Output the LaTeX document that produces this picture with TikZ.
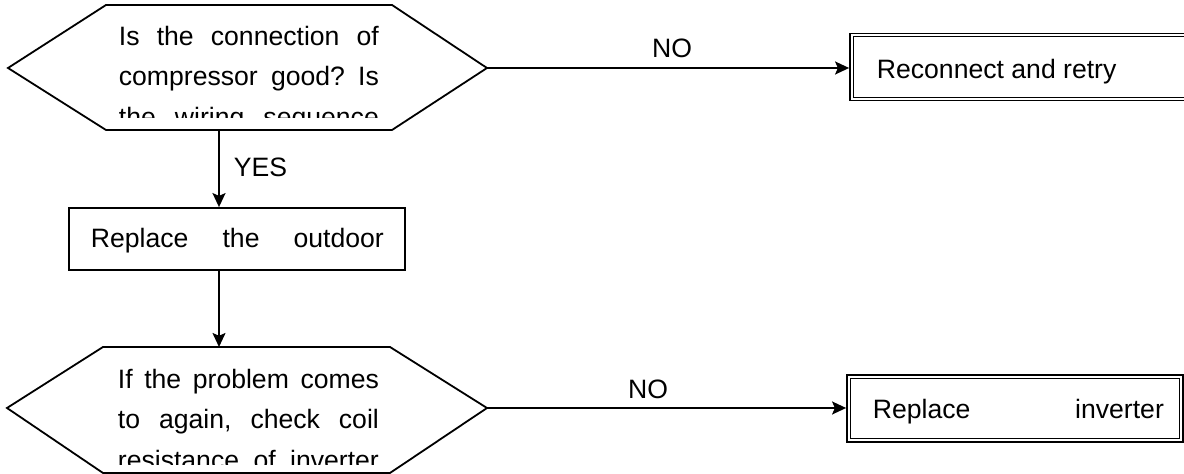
\documentclass[tikz,border=0pt]{standalone}
\usepackage{fontspec}
\setmainfont{Liberation Sans}
\usetikzlibrary{arrows.meta}
\begin{document}
\begin{tikzpicture}[x=0.5pt,y=-0.5pt,
  line width=0.9pt,
  txt/.style={inner sep=0pt,font=\fontsize{13.3pt}{20pt}\selectfont},
  boxx/.style={draw,line width=0.9pt,inner sep=0pt},
  dbox/.style={draw,line width=0.9pt,inner sep=0pt,minimum height=33.5pt},
  arr/.style={-{Stealth[length=7pt,width=6.5pt,inset=1.4pt]},line width=0.9pt},
  hexa/.style={line width=0.9pt,line join=miter}]
\useasboundingbox (0,0) rectangle (1184,474);
\clip (0,0) rectangle (1184,474);

% decision 1 (hexagon)
\coordinate (q1l) at (8,68);
\coordinate (q1r) at (487,68);
\coordinate (q1b) at (219,130);
\draw[hexa] (q1l) -- (106,5) -- (392,5) -- (q1r) -- (392,130) -- (106,130) -- cycle;
\begin{scope}
  \clip (100,8) rectangle (400,118);
  \node[txt,anchor=base west] (q1a) at (118,46) {\hbox to 130pt{Is\hfill the\hfill connection\hfill of}};
  \node[txt,anchor=base west] (q1bt) at (118,86) {\hbox to 130pt{compressor\hfill good?\hfill Is}};
  \node[txt,anchor=base west] (q1c) at (118,127) {\hbox to 130pt{the\hfill wiring\hfill sequence}};
\end{scope}

% decision 2 (hexagon)
\coordinate (q2l) at (7,408);
\coordinate (q2r) at (487,408);
\coordinate (q2t) at (219,347);
\draw[hexa] (q2l) -- (103,347) -- (390,347) -- (q2r) -- (390,473) -- (103,473) -- cycle;
\begin{scope}
  \clip (100,350) rectangle (400,465);
  \node[txt,anchor=base west] (q2a) at (117,389) {\hbox to 130.5pt{If\hfill the\hfill problem\hfill comes}};
  \node[txt,anchor=base west] (q2bt) at (117,429) {\hbox to 130.5pt{to\hfill again,\hfill check\hfill coil}};
  \node[txt,anchor=base west] (q2c) at (117,470) {\hbox to 130.5pt{resistance\hfill of\hfill inverter}};
\end{scope}

% process box
\node[boxx,minimum width=168pt,minimum height=31pt] (rep) at (237,239) {};
\node[txt,anchor=base west] (rept) at (90,248) {\hbox to 146.5pt{Replace\hfill the\hfill outdoor}};

% terminal boxes (double border)
\node[dbox,minimum width=180pt] (r1) at (1030,67) {};
\draw[line width=0.5pt] ([xshift=2pt,yshift=-2pt]r1.north west) rectangle ([xshift=-2pt,yshift=2pt]r1.south east);
\node[txt,anchor=base west] (r1t) at (876,79) {Reconnect and retry};

\node[dbox,minimum width=168pt] (r2) at (1015,408.5) {};
\draw[line width=0.5pt] ([xshift=2pt,yshift=-2pt]r2.north west) rectangle ([xshift=-2pt,yshift=2pt]r2.south east);
\node[txt,anchor=base west] (r2t) at (872,419) {\hbox to 145.5pt{Replace\hfill inverter}};

% connectors
\draw[arr] (q1r) -- (q1r -| r1.west);
\node[txt,anchor=base] (no1) at (672,58) {NO};
\draw[arr] (q1b) -- (q1b |- rep.north);
\node[txt,anchor=base west] (yes) at (233,177) {YES};
\draw[arr] (q1b |- rep.south) -- (q2t);
\draw[arr] (q2r) -- (q2r -| r2.west);
\node[txt,anchor=base] (no2) at (648,399) {NO};
\end{tikzpicture}
\end{document}
